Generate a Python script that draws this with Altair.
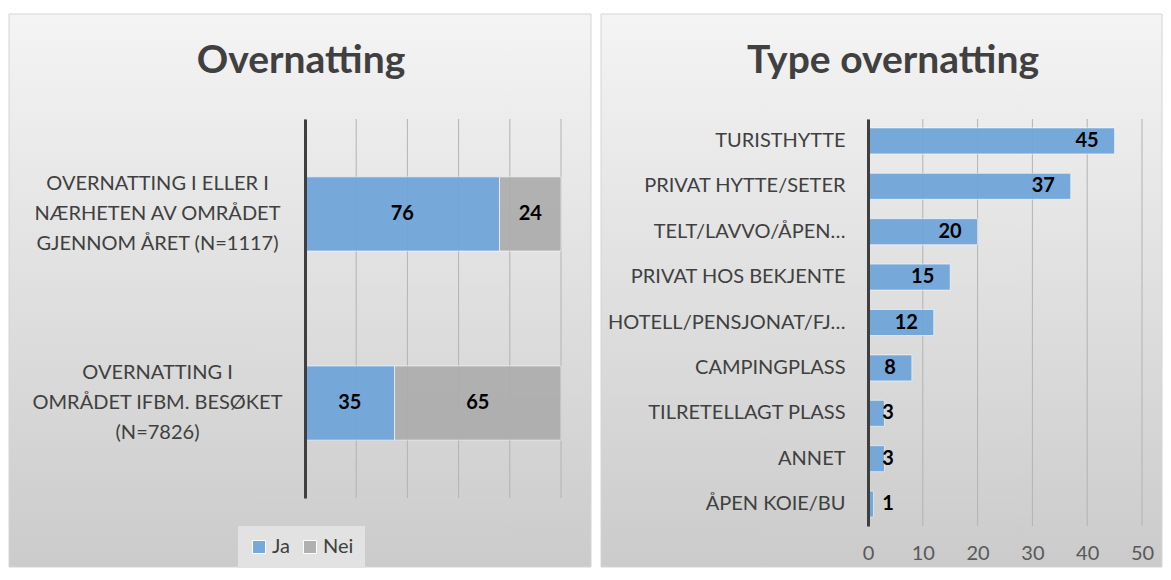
import altair as alt
import pandas as pd

# ---------------- data ----------------
left_categories = [
    "OVERNATTING I ELLER I|NÆRHETEN AV OMRÅDET|GJENNOM ÅRET (N=1117)",
    "OVERNATTING I|OMRÅDET IFBM. BESØKET|(N=7826)",
]
left_ja = [76, 35]
left_nei = [24, 65]
responses = ["Ja", "Nei"]
left_ticks = [0, 20, 40, 60, 80, 100]

right_categories = [
    "TURISTHYTTE", "PRIVAT HYTTE/SETER", "TELT/LAVVO/ÅPEN…", "PRIVAT HOS BEKJENTE",
    "HOTELL/PENSJONAT/FJ…", "CAMPINGPLASS", "TILRETELLAGT PLASS", "ANNET", "ÅPEN KOIE/BU",
]
right_values = [45, 37, 20, 15, 12, 8, 3, 3, 1]
right_ticks = [0, 10, 20, 30, 40, 50]

title_left = "Overnatting"
title_right = "Type overnatting"

# ---------------- tables ----------------
rows = []
for c, j, n in zip(left_categories, left_ja, left_nei):
    rows.append({"cat": c, "resp": responses[0], "value": j, "ord": 0})
    rows.append({"cat": c, "resp": responses[1], "value": n, "ord": 1})
left_df = pd.DataFrame(rows)
left_tick_df = pd.DataFrame({"tick": left_ticks})
right_df = pd.DataFrame({"cat": right_categories, "value": right_values})
right_tick_df = pd.DataFrame({"tick": right_ticks})

FONT = "Lato"
TXT = "#404040"
BLUE = "#6EA5D9"
GRAY = "#ADADAD"
GRID = "#B3B3B3"

bg_grad = alt.Gradient(
    gradient="linear",
    stops=[alt.GradientStop(color="#F4F4F4", offset=0),
           alt.GradientStop(color="#CBCBCB", offset=1)],
    x1=0, x2=0, y1=0, y2=1,
)

LW, LH = 256, 379
RW, RH = 274, 407


def panel(x0, x1, title, tx):
    d = pd.DataFrame({"t": [title]})
    bg = alt.Chart(d).mark_rect(fill=bg_grad, stroke="#D4D4D4", strokeWidth=1, clip=False).encode(
        x=alt.value(x0), x2=alt.value(x1), y=alt.value(-105), y2=alt.value(448)
    )
    tt = alt.Chart(d).mark_text(
        font=FONT, fontWeight="bold", fontSize=39, color=TXT, align="center", baseline="alphabetic"
    ).encode(x=alt.value(tx), y=alt.value(-46), text="t:N")
    return bg, tt


# ---------------- left chart ----------------
lx = alt.Scale(domain=[0, 100])
bg_l, tt_l = panel(-296, 286, title_left, -4)

grid_l = alt.Chart(left_tick_df).mark_rule(color=GRID, strokeWidth=1).encode(
    x=alt.X("tick:Q", scale=lx, axis=None)
)

base_l = alt.Chart(left_df).transform_stack(
    stack="value", groupby=["cat"], as_=["x0", "x1"], sort=[alt.SortField("ord")]
).transform_calculate(mid="(datum.x0 + datum.x1) / 2")

yl = alt.Y(
    "cat:N", sort=left_categories, title=None,
    scale=alt.Scale(paddingInner=0.608, paddingOuter=0.306),
    axis=alt.Axis(
        labelExpr="split(datum.label, '|')", labelAlign="center", labelBaseline="middle",
        labelPadding=148, labelOffset=-30, ticks=False, domain=True, domainColor="#3F3F3F",
        domainWidth=3, labelFontSize=20, labelFont=FONT, labelColor=TXT, labelLineHeight=30,
        labelLimit=400, grid=False, zindex=1,
    ),
)

bars_l = base_l.mark_bar(opacity=0.93, stroke="white", strokeWidth=1, strokeOpacity=0.6).encode(
    y=yl,
    x=alt.X("x0:Q", scale=lx, axis=None),
    x2="x1:Q",
    color=alt.Color(
        "resp:N", scale=alt.Scale(domain=responses, range=[BLUE, GRAY]),
        legend=alt.Legend(
            orient="none", legendX=-67, legendY=407, direction="horizontal", title=None,
            symbolType="square", symbolSize=170, symbolStrokeColor="white", symbolStrokeWidth=1,
            labelFontSize=20, labelFont=FONT, labelColor=TXT, fillColor="#E2E2E2",
            padding=11, columnPadding=10, labelOffset=3, zindex=1,
        ),
    ),
)
text_l = base_l.mark_text(font=FONT, fontWeight="bold", fontSize=20, color="black").encode(
    y=alt.Y("cat:N", sort=left_categories),
    x=alt.X("mid:Q", scale=lx),
    text="value:Q",
)

left = alt.layer(bg_l, tt_l, grid_l, bars_l, text_l).properties(width=LW, height=LH)

# ---------------- right chart ----------------
rx = alt.Scale(domain=[0, 50])
bg_r, tt_r = panel(-267, 294, title_right, 25)

grid_r = alt.Chart(right_tick_df).mark_rule(color=GRID, strokeWidth=1).encode(
    x=alt.X("tick:Q", scale=rx)
)
yr = alt.Y(
    "cat:N", sort=right_categories, title=None,
    scale=alt.Scale(paddingInner=0.427, paddingOuter=0.196),
    axis=alt.Axis(
        labelPadding=23, ticks=False, domain=True, domainColor="#3F3F3F", domainWidth=3,
        labelFontSize=20, labelFont=FONT, labelColor=TXT, labelLimit=400, zindex=1,
    ),
)
bars_r = alt.Chart(right_df).mark_bar(
    color=BLUE, opacity=0.93, stroke="white", strokeWidth=1, strokeOpacity=0.6
).encode(
    y=yr,
    x=alt.X(
        "value:Q", scale=rx, title=None,
        axis=alt.Axis(
            values=right_ticks, ticks=False, domain=False, grid=False, labelPadding=17,
            labelFlush=False, labelFontSize=20, labelFont=FONT, labelColor="#595959", zindex=1,
        ),
    ),
)
text_r = alt.Chart(right_df).transform_calculate(
    pos="max(datum.value - 2.9, 4.7)"
).mark_text(font=FONT, fontWeight="bold", fontSize=20, color="black", align="right").encode(
    y=alt.Y("cat:N", sort=right_categories),
    x=alt.X("pos:Q", scale=rx),
    text="value:Q",
)

right = alt.layer(bg_r, tt_r, grid_r, bars_r, text_r).properties(width=RW, height=RH)

chart = alt.hconcat(left, right, spacing=8).properties(
    padding={"left": 0, "top": 5, "right": 0, "bottom": 0}
).configure_view(stroke=None).configure(font=FONT)

chart.save("out.html", embed_options={"renderer": "svg", "actions": False})
